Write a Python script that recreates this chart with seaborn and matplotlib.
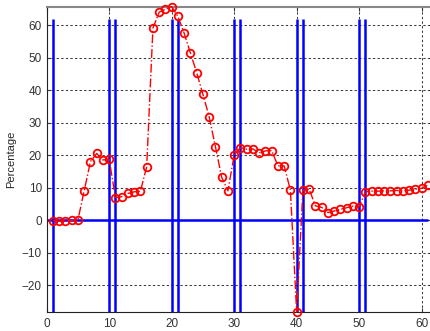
import numpy as np
import pandas as pd
import matplotlib
matplotlib.use("Agg")
import matplotlib.pyplot as plt
import seaborn as sns

# data
x = list(range(1, 62))
pct = [-0.2, -0.3, -0.3, -0.1, 0.1, 9.0, 18.0, 20.5, 18.5, 18.7,
       6.9, 7.2, 8.2, 8.7, 8.9, 16.4, 59.1, 64.0, 64.9, 65.7,
       62.7, 57.5, 51.4, 45.4, 38.7, 31.8, 22.6, 13.2, 9.0, 20.0,
       22.3, 21.8, 21.9, 20.7, 21.3, 21.4, 16.7, 16.7, 9.2, -28.3,
       9.2, 9.5, 4.4, 3.9, 2.3, 2.8, 3.3, 3.8, 4.3, 4.1,
       8.7, 8.9, 8.9, 9.0, 9.0, 9.1, 9.1, 9.2, 9.5, 9.8, 10.8]
breaks = [1, 10, 11, 20, 21, 30, 31, 40, 41, 50, 51]
xticks = [0, 10, 20, 30, 40, 50, 60]
yticks = [-20, -10, 0, 10, 20, 30, 40, 50, 60]

df = pd.DataFrame({"x": x, "pct": pct})

sns.set_style("white", {"axes.edgecolor": "#222222"})
plt.rcParams["font.family"] = ["Liberation Sans", "DejaVu Sans"]

fig = plt.figure(figsize=(4.3, 3.31), dpi=100)
ax = fig.add_axes([0.1086, 0.0574, 0.901, 0.9225])

# dotted grid
for gx in xticks:
    ax.axvline(gx, color="#3a3a3a", linewidth=0.75, linestyle=(0, (2.2, 2.2)), zorder=1)
for gy in yticks:
    ax.axhline(gy, color="#3a3a3a", linewidth=0.75, linestyle=(0, (2.2, 2.2)), zorder=1)

ax.vlines(breaks, -40, 62, color="blue", linewidth=1.8, zorder=2)
ax.hlines(0, 0, 61, color="blue", linewidth=1.8, zorder=2)

sns.lineplot(data=df, x="x", y="pct", ax=ax, color="red", linestyle="-.",
             linewidth=1.0, marker="o", markersize=5.5, markerfacecolor="none",
             markeredgecolor="red", markeredgewidth=1.3, zorder=3, clip_on=False)

ax.set_xlim(0, 62)
ax.set_ylim(min(pct), max(pct))
ax.set_xticks(xticks)
ax.set_yticks(yticks)

ax.set_xlabel("")
ax.set_ylabel("Percentage", fontsize=8, labelpad=4)
ax.tick_params(direction="in", length=3, labelsize=8.5, colors="#333333",
               top=True, right=True, bottom=True, left=True)
ax.tick_params(axis="x", pad=4)
ax.spines["top"].set_color("#888888")
ax.spines["top"].set_linewidth(1.5)

fig.savefig("out.png", dpi=100)
